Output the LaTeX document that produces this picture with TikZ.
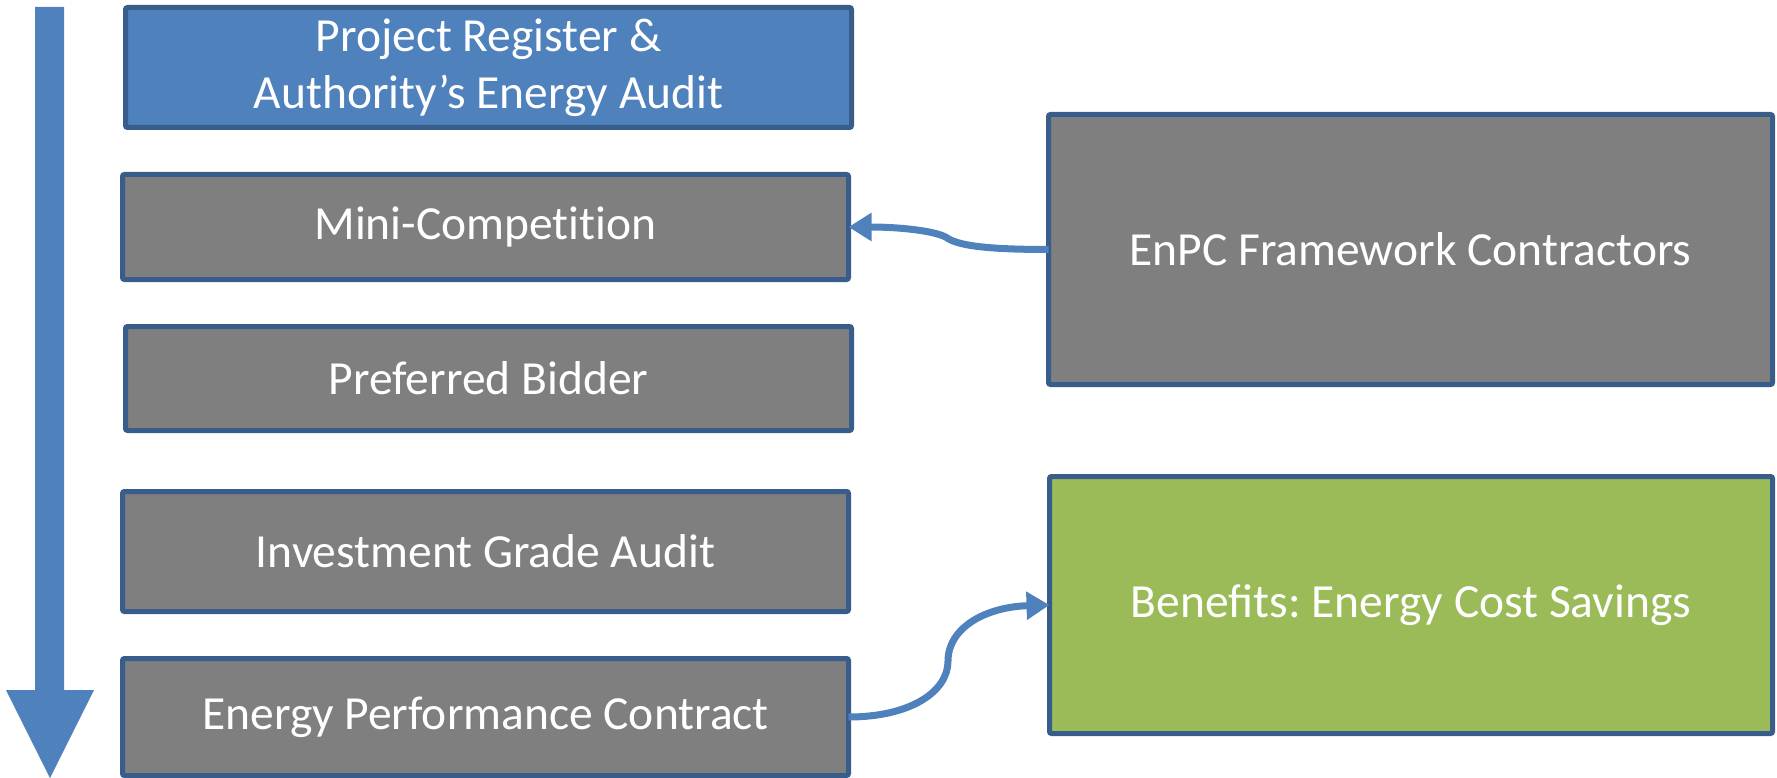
\documentclass[tikz,border=0pt]{standalone}
\usepackage{fontspec}
\setmainfont{Carlito}
\usetikzlibrary{arrows.meta}
\definecolor{ablue}{HTML}{4F81BD}
\definecolor{bord}{HTML}{385D8A}
\definecolor{gfill}{HTML}{7F7F7F}
\definecolor{lgreen}{HTML}{9BBB59}
\frenchspacing
\begin{document}
\begin{tikzpicture}[x=1pt,y=-1pt,
  box/.style={draw=bord, line width=5pt, rounded corners=2pt, fill=gfill, text=white,
    outer sep=0pt, inner sep=0pt, align=center, font=\fontsize{47.5}{57}\selectfont},
  conn/.style={draw=ablue, line width=7pt, -{Triangle[length=23pt,width=27pt]}}]
\useasboundingbox (0,0) rectangle (1777,778);
% progress arrow
\fill[ablue] (35,7) -- (64,7) -- (64,690) -- (94,690) -- (50,778) -- (6,690) -- (35,690) -- cycle;
% left column
\node[box, fill=ablue, minimum width=726pt, minimum height=120pt] (reg) at (488.5,67.5)
  {Project Register \&\\Authority’s Energy Audit};
\node[box, minimum width=726pt, minimum height=105pt] (mini) at (485.5,227)
  {\addfontfeature{Ligatures=NoCommon}Mini-Competition};
\node[box, minimum width=726pt, minimum height=104pt] (pref) at (488.5,378.5) {Preferred Bidder};
\node[box, minimum width=726pt, minimum height=120pt] (iga) at (485.5,551.5) {Investment Grade Audit};
\node[box, minimum width=726pt, minimum height=117pt] (epc) at (485.5,717) {Energy Performance Contract};
% right column
\node[box, minimum width=724pt, minimum height=270pt] (enpc) at (1410.5,249.5) {EnPC Framework Contractors};
\node[box, fill=lgreen, minimum width=723pt, minimum height=257pt] (ben) at (1411,605) {Benefits: Energy Cost Savings};
% connectors
\coordinate (k1) at (948,238.5);
\coordinate (k2) at (948,661);
\draw[conn] (enpc.west) .. controls (990,249.5) and (960,246) .. (k1)
  .. controls (938,231) and (900,227) .. (mini.east);
\draw[conn] (epc.east) .. controls (910,717) and (948,692) .. (k2)
  .. controls (948,628) and (985,607) .. (ben.west);
\end{tikzpicture}
\end{document}
